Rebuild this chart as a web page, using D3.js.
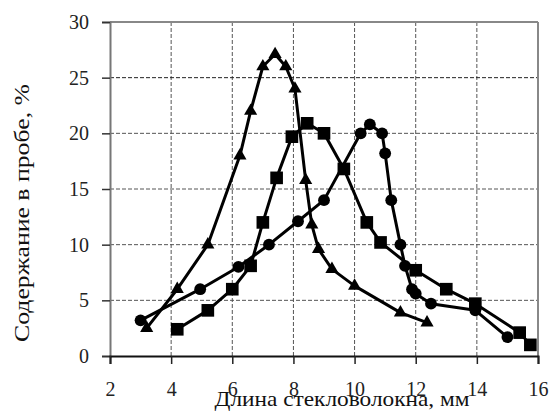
<!DOCTYPE html>
<html><head><meta charset="utf-8">
<script src="https://cdn.jsdelivr.net/npm/d3@7/dist/d3.min.js"></script>
<style>
html,body{margin:0;padding:0;background:#fff;}
svg{display:block;}
</style></head>
<body>
<svg id="chart" width="550" height="411"></svg>
<script>
// Data (length of glass fiber, mm ; content in sample, %)
const triX = [3.2, 4.2, 5.2, 6.25, 6.6, 7.0, 7.4, 7.75, 8.05, 8.4, 8.6, 8.82, 9.26, 10.0, 11.5, 12.37];
const triY = [2.5, 6.0, 10.0, 18.0, 22.0, 26.0, 27.1, 26.0, 24.0, 15.8, 11.8, 9.6, 7.8, 6.3, 3.9, 3.0];
const sqX = [4.2, 5.2, 6.0, 6.6, 7.0, 7.45, 7.95, 8.45, 9.0, 9.65, 10.4, 10.85, 12.0, 13.0, 13.95, 15.4, 15.75];
const sqY = [2.4, 4.1, 6.0, 8.1, 12.0, 16.0, 19.7, 20.9, 20.0, 16.8, 12.0, 10.2, 7.7, 6.0, 4.7, 2.1, 1.0];
const ciX = [3.0, 4.95, 6.2, 7.2, 8.15, 9.0, 10.2, 10.5, 10.9, 11.0, 11.2, 11.5, 11.65, 11.88, 12.0, 12.5, 13.95, 15.0];
const ciY = [3.2, 6.0, 8.0, 10.0, 12.1, 14.0, 20.0, 20.8, 20.0, 18.2, 14.0, 10.0, 8.1, 6.0, 5.6, 4.7, 4.1, 1.7];
const xTicks = [2, 4, 6, 8, 10, 12, 14, 16];
const yTicks = [0, 5, 10, 15, 20, 25, 30];
const xTitle = "Длина стекловолокна, мм";
const yTitle = "Содержание в пробе, %";

const FONT = "Liberation Serif";
const svg = d3.select("#chart");
const x = d3.scaleLinear().domain([2, 16]).range([110, 538]);
const y = d3.scaleLinear().domain([0, 30]).range([356, 22]);

// grid
const g = svg.append("g");
g.selectAll(".vg").data(xTicks.slice(1, -1)).enter().append("line")
  .attr("x1", d => x(d)).attr("x2", d => x(d)).attr("y1", y(30)).attr("y2", y(0))
  .attr("stroke", "#555").attr("stroke-width", 1).attr("stroke-dasharray", "4,2");
g.selectAll(".hg").data(yTicks.slice(1, -1)).enter().append("line")
  .attr("y1", d => y(d)).attr("y2", d => y(d)).attr("x1", x(2)).attr("x2", x(16))
  .attr("stroke", d => d === 25 ? "#222" : "#555").attr("stroke-width", 1).attr("stroke-dasharray", "4,2");

// frame top/right
svg.append("line").attr("x1", x(2)).attr("x2", x(16)).attr("y1", y(30)).attr("y2", y(30)).attr("stroke", "#888").attr("stroke-width", 2);
svg.append("line").attr("x1", x(16)).attr("x2", x(16)).attr("y1", y(30)).attr("y2", y(0)).attr("stroke", "#888").attr("stroke-width", 2);

// y axis
const yAxis = d3.axisLeft(y).tickValues(yTicks).tickSize(8).tickPadding(13).tickFormat(d3.format("d"));
const ya = svg.append("g").attr("transform", `translate(${x(2)},0)`).call(yAxis);
ya.attr("font-family", FONT).attr("font-size", 20);
ya.select(".domain").attr("stroke", "#777").attr("stroke-width", 2);
ya.selectAll(".tick line").attr("stroke", "#333").attr("stroke-width", 1.5);
ya.selectAll(".tick text").attr("fill", "#222");

// x axis
const xAxis = d3.axisBottom(x).tickValues(xTicks).tickSize(8).tickPadding(18).tickFormat(d3.format("d"));
const xa = svg.append("g").attr("transform", `translate(0,${y(0)})`).call(xAxis);
xa.attr("font-family", FONT).attr("font-size", 20);
xa.select(".domain").attr("stroke", "#111").attr("stroke-width", 2);
xa.selectAll(".tick line").attr("stroke", "#222").attr("stroke-width", 1.5);
xa.selectAll(".tick text").attr("fill", "#222");

// titles
svg.append("text").attr("x", 342).attr("y", 406).attr("text-anchor", "middle")
  .attr("font-size", 21).attr("font-family", FONT).attr("fill", "#111")
  .attr("textLength", 255).attr("lengthAdjust", "spacingAndGlyphs").text(xTitle);
svg.append("text").attr("transform", "translate(29,213) rotate(-90)").attr("text-anchor", "middle")
  .attr("font-size", 22).attr("font-family", FONT).attr("fill", "#111")
  .attr("textLength", 258).attr("lengthAdjust", "spacingAndGlyphs").text(yTitle);

// series
const line = d3.line().x(d => x(d[0])).y(d => y(d[1]));
function series(xs, ys, shape) {
  const pts = xs.map((v, i) => [v, ys[i]]);
  svg.append("path").datum(pts).attr("d", line).attr("fill", "none").attr("stroke", "#000").attr("stroke-width", 3).attr("stroke-linejoin", "round");
  const sym = d3.symbol().type(shape === "tri" ? d3.symbolTriangle : shape === "sq" ? d3.symbolSquare : d3.symbolCircle)
    .size(shape === "tri" ? 75 : shape === "sq" ? 160 : 110);
  svg.append("g").selectAll("path").data(pts).enter().append("path")
    .attr("d", sym).attr("transform", d => `translate(${x(d[0])},${y(d[1])})`).attr("fill", "#000");
}
series(ciX, ciY, "ci");
series(sqX, sqY, "sq");
series(triX, triY, "tri");
</script>
</body></html>
